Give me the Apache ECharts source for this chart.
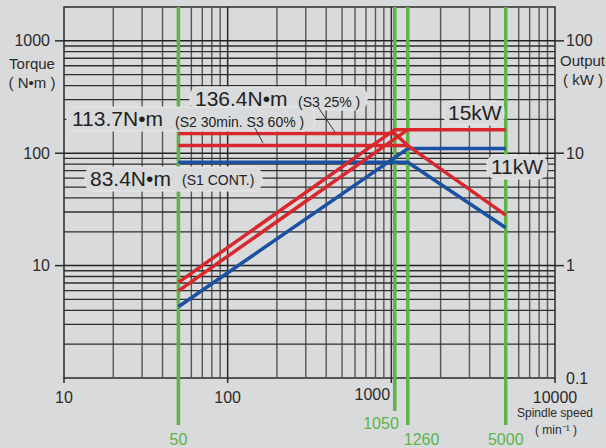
<!DOCTYPE html>
<html><head><meta charset="utf-8">
<script src="https://cdn.jsdelivr.net/npm/echarts@6/dist/echarts.min.js"></script>
<style>html,body{margin:0;padding:0;background:#d9dadb;}#c{width:606px;height:448px;}</style>
</head><body><div id="c"></div>
<script>
// ---------- data ----------
const xTickValues = [10, 100, 1000, 10000];
const xTickLabels = ['10', '100', '1000', '10000'];
const leftTickValues = [10, 100, 1000];
const leftTickLabels = ['10', '100', '1000'];
const rightTickValues = [0.1, 1, 10, 100];
const rightTickLabels = ['0.1', '1', '10', '100'];
const markerSpeeds = [50, 1050, 1260, 5000];
const markerLabels = ['50', '1050', '1260', '5000'];

// torque curves (N·m) vs speed (min^-1)
const torqueS3_25 = [[50, 150], [1050, 150], [1260, 117], [5000, 28.1]];
const torqueS2 = [[50, 117], [1260, 117]];
const torqueS1 = [[50, 83], [1260, 83], [5000, 21.7]];
// output curves (kW) vs speed
const powerS3_25 = [[50, 0.71], [1050, 16.2], [5000, 16.2]];
const powerS2 = [[50, 0.596], [1260, 16.2]];
const powerS1 = [[50, 0.43], [1260, 11], [5000, 11]];

// grid lines
const xMinor = [20, 30, 40, 50, 60, 70, 80, 90, 200, 300, 400, 500, 600, 700, 800, 900, 2000, 3000, 4000, 5000, 6000, 7000, 8000, 9000];
const xMajor = [100, 1000];
const yMinor = [2, 3, 4, 5, 6, 7, 8, 9, 20, 30, 40, 50, 60, 70, 80, 90, 200, 300, 400, 500, 600, 700, 800, 900];
const yMajor = [10, 100, 1000];

(function () {
const RED = '#d9272e', BLUE = '#1b51a3', GREEN = '#5bb548', BG = '#d9dadb';
const chart = echarts.init(document.getElementById('c'), null, {renderer: 'svg'});
const mk = (data, color, yi) => ({type: 'line', data, yAxisIndex: yi, showSymbol: false, symbol: 'none',
  lineStyle: {color, width: 3.5}, itemStyle: {color}, z: 5, silent: true, animation: false});
const hiddenAxis = {axisLine: {show: false}, axisTick: {show: false}, axisLabel: {show: false}, splitLine: {show: false}};
chart.setOption({
  backgroundColor: BG,
  animation: false,
  grid: {left: 64, right: 51, top: 7, bottom: 70, show: true, borderColor: '#2a2a2a', borderWidth: 1.5, backgroundColor: 'transparent'},
  xAxis: Object.assign({type: 'log', logBase: 10, min: 10, max: 10000}, hiddenAxis),
  yAxis: [
    Object.assign({type: 'log', logBase: 10, min: 1, max: 2000}, hiddenAxis),
    Object.assign({type: 'log', logBase: 10, min: 0.1, max: 200, position: 'right'}, hiddenAxis)
  ],
  series: [
    mk(torqueS1, BLUE, 0), mk(powerS1, BLUE, 1),
    mk(torqueS2, RED, 0), mk(powerS2, RED, 1),
    mk(torqueS3_25, RED, 0), mk(powerS3_25, RED, 1)
  ]
});

const px = v => chart.convertToPixel({xAxisIndex: 0}, v);
const pyL = v => chart.convertToPixel({yAxisIndex: 0}, v);
const pyR = v => chart.convertToPixel({yAxisIndex: 1}, v);
const yTop = pyL(2000), yBot = pyL(1), xl = px(10), xr = px(10000);

const G = [];
const line = (x1, y1, x2, y2, stroke, w, z) => G.push({type: 'line', shape: {x1, y1, x2, y2}, style: {stroke, lineWidth: w}, z, silent: true});
const text = (t, x, y, size, fill, align, z, family) => G.push({type: 'text', x, y, z, silent: true,
  style: {text: t, font: size + 'px ' + (family || '"Liberation Sans", Arial, sans-serif'), fill, align, verticalAlign: 'middle'}});
const box = (x, y, w, h) => G.push({type: 'rect', shape: {x, y, width: w, height: h, r: 9}, style: {fill: BG, stroke: '#e8e8e8', lineWidth: 1}, z: 8, silent: true});

// grid lines
xMinor.forEach(v => line(px(v), yTop, px(v), yBot, '#555', 1.4, 1));
xMajor.forEach(v => line(px(v), yTop, px(v), yBot, '#2a2a2a', 1.5, 1));
yMinor.forEach(v => line(xl, pyL(v), xr, pyL(v), '#2e2e2e', 1.3, 1));
yMajor.forEach(v => line(xl, pyL(v), xr, pyL(v), '#222', 1.5, 1));

// axis ticks & labels
xTickValues.forEach((v, i) => {
  line(px(v), yBot, px(v), yBot + 5, '#2a2a2a', 1.5, 1);
  const dx = v === 1000 ? -19 : 0;
  const dy = v === 1000 ? 16 : 19;
  text(xTickLabels[i], px(v) + dx, yBot + dy, 16, '#2b2b2b', 'center', 3);
});
leftTickValues.forEach((v, i) => {
  line(xl - 9, pyL(v), xl, pyL(v), '#2a2a2a', 1.5, 1);
  text(leftTickLabels[i], 50, pyL(v), 16, '#2b2b2b', 'right', 3);
});
rightTickValues.forEach((v, i) => {
  if (v !== 0.1) line(xr, pyR(v), xr + 9, pyR(v), '#2a2a2a', 1.5, 1);
  text(rightTickLabels[i], 566, pyR(v), 16, '#2b2b2b', 'left', 3);
});

// axis names
text('Torque', 32, 63, 15, '#2b2b2b', 'center', 3);
text('( N•m )', 32, 82, 15, '#2b2b2b', 'center', 3);
text('Output', 560, 60, 15, '#2b2b2b', 'left', 3);
text('( kW )', 583, 79, 15, '#2b2b2b', 'center', 3);
const narrow = '"Liberation Sans Narrow", "Arial Narrow", sans-serif';
text('Spindle speed', 555, yBot + 35, 12, '#2b2b2b', 'center', 3, narrow);
text('( min⁻¹ )', 556, yBot + 52, 12, '#2b2b2b', 'center', 3, narrow);

// green speed markers
markerSpeeds.forEach((v, i) => {
  const ext = v === 1050 ? 33 : 47;
  line(px(v), yTop, px(v), yBot + ext, GREEN, 3.5, 2);
  let x = px(v), al = 'center', y = yBot + 61;
  if (v === 1050) { x = px(v) + 4; al = 'right'; y = yBot + 45; }
  if (v === 1260) { x = px(v) - 4; al = 'left'; }
  text(markerLabels[i], x, y, 16, GREEN, al, 3);
});

// annotations
box(190, 87, 177, 23);
text('136.4N•m', 195, 98.7, 21, '#222', 'left', 9);
text('(S3 25% )', 298, 101.5, 14, '#222', 'left', 9);
box(67, 107, 248, 24);
text('113.7N•m', 72, 118.5, 21, '#222', 'left', 9);
text('(S2 30min. S3 60% )', 175, 121.5, 14, '#222', 'left', 9);
box(85, 167, 177, 24);
text('83.4N•m', 90, 178, 21, '#222', 'left', 9);
text('(S1 CONT.)', 182, 180, 14, '#222', 'left', 9);
box(444, 101, 60, 24);
text('15kW', 448, 112.7, 21, '#222', 'left', 9);
box(487, 155, 60, 24);
text('11kW', 491, 166.7, 21, '#222', 'left', 9);
line(318, 107, 335, 132, '#333', 1, 10);
line(255, 128, 263, 143, '#333', 1, 10);

chart.setOption({graphic: {elements: G}});
})();
</script></body></html>
